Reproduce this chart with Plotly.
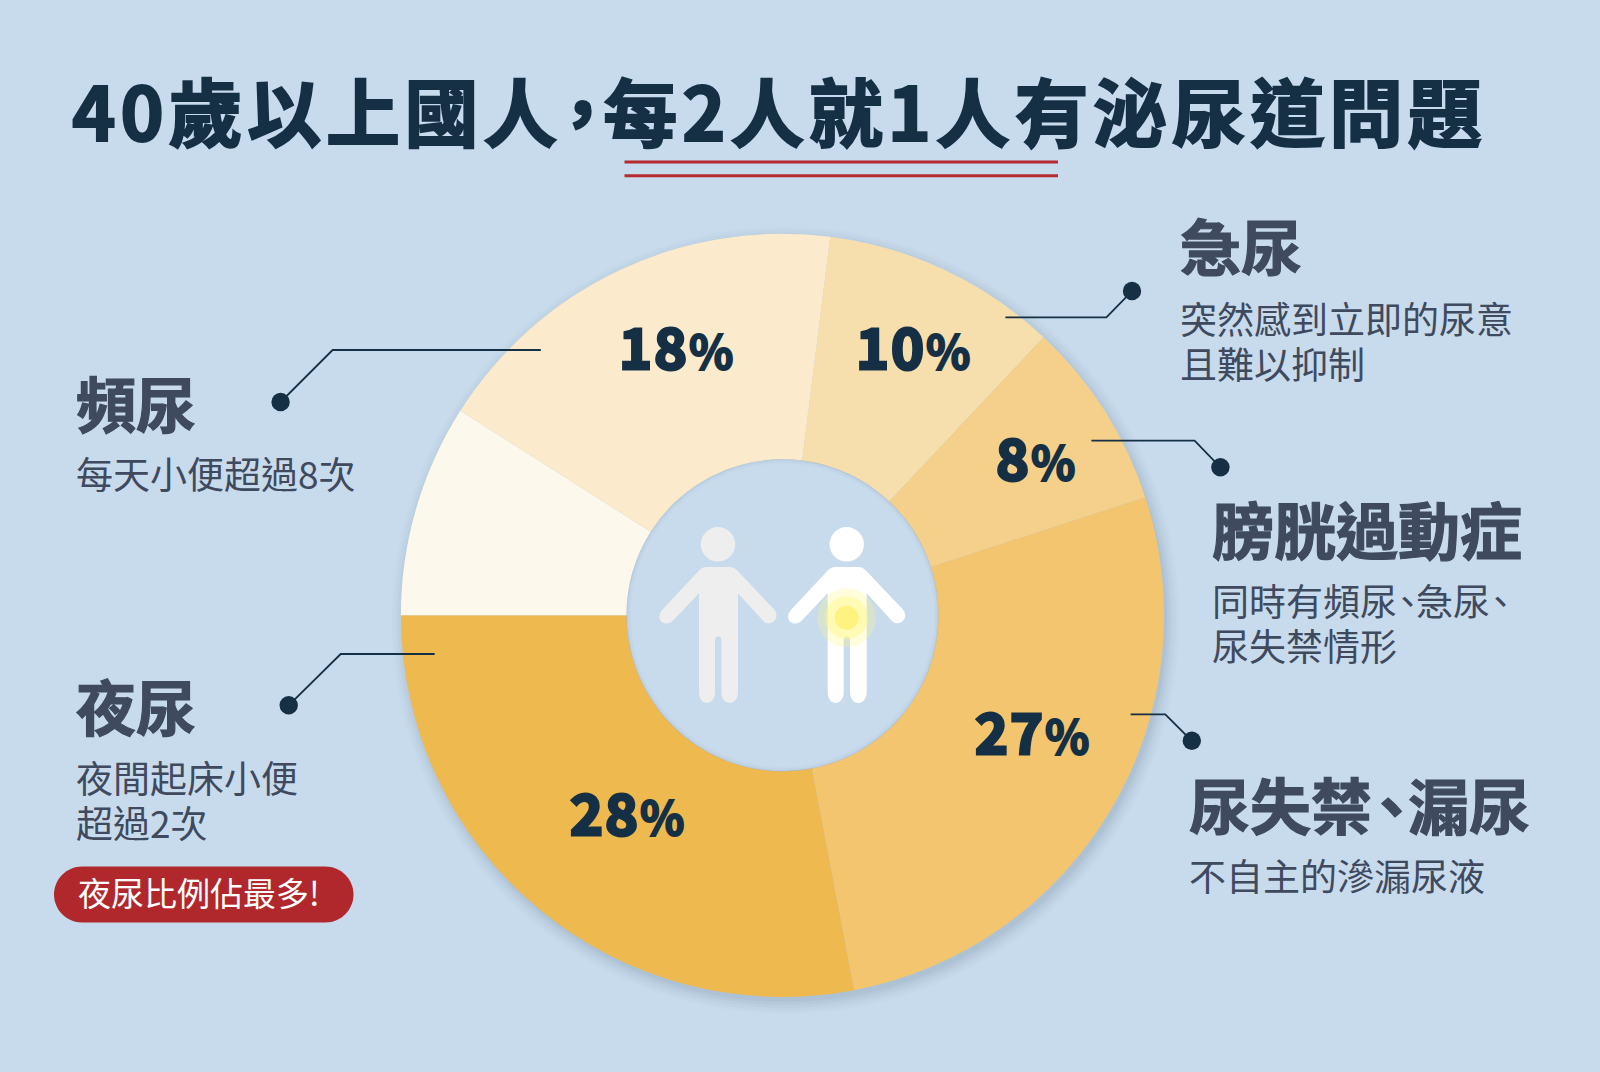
import re
import plotly.graph_objects as go

W, H = 1600, 1072
BG = "#c8dbec"
NAVY = "#152f45"
GREY = "#3f4a5e"
FONT = "Noto Sans CJK TC"

categories = ["急尿", "膀胱過動症", "尿失禁、漏尿", "夜尿", "其他", "頻尿"]
values = [10, 8, 27, 28, 9, 18]
colors = ["#f6dfac", "#f4d08a", "#f2c56e", "#eeb94e", "#fdf8ec", "#fbebcc"]

title_text = "40歲以上國人，每2人就1人有泌尿道問題"
pct_labels = {"急尿": (913, 345), "膀胱過動症": (1035, 455), "尿失禁、漏尿": (1032, 729),
              "夜尿": (627, 810), "頻尿": (676, 345)}

descriptions = [
    ("急尿", 1180, 244, 61, ["突然感到立即的尿意", "且難以抑制"], 340),
    ("膀胱過動症", 1212, 528, 62, ["同時有頻尿、急尿、", "尿失禁情形"], 622),
    ("尿失禁、漏尿", 1189, 803, 61, ["不自主的滲漏尿液"], 875),
    ("頻尿", 76, 401, 60, ["每天小便超過8次"], 473),
    ("夜尿", 76, 704, 60, ["夜間起床小便", "超過2次"], 799),
]
callouts = [
    [(1005.4, 317.3), (1106.4, 317.3), (1132, 291)],
    [(1091.4, 440.7), (1194.6, 440.7), (1220.4, 467.3)],
    [(1130.6, 714.3), (1165.3, 714.3), (1191.8, 740.8)],
    [(540.8, 350), (332.6, 350), (280.6, 402)],
    [(434.7, 654), (340.7, 654), (288.7, 705.3)],
]

CX, CY, R, RH = 782.5, 615.3, 381.6, 156


def px(x):
    return x / W


def py(y):
    return 1 - y / H


def circle(cx, cy, r, fill, line=None, lw=0, layer="above"):
    return dict(type="circle", xref="paper", yref="paper", layer=layer,
                x0=px(cx - r), x1=px(cx + r), y0=py(cy + r), y1=py(cy - r),
                fillcolor=fill, line=dict(color=line or "rgba(0,0,0,0)", width=lw))


def path(cmds, fill=None, line=None, lw=0):
    out = []
    for c in cmds:
        if isinstance(c, str):
            out.append(c)
        else:
            out.append(f"{px(c[0]):.5f},{py(c[1]):.5f}")
    s = " ".join(out)
    d = dict(type="path", xref="paper", yref="paper", path=s,
             line=dict(color=line or "rgba(0,0,0,0)", width=lw))
    if fill:
        d["fillcolor"] = fill
    return d


def person(dx, color):
    z = lambda x, y: (600 + x / 3 + dx, 440 + y / 3)
    cmds = [
        "M", z(320, 381), "L", z(388, 381), "Q", z(402, 381), z(411, 391), "L", z(522, 508),
        "C", z(538, 528), z(526, 550), z(505, 550),
        "Q", z(495, 550), z(488, 541), "L", z(414, 460),
        "L", z(414, 755), "C", z(414, 800), z(364, 800), z(364, 755),
        "L", z(364, 600), "C", z(364, 586), z(345, 586), z(345, 600),
        "L", z(345, 755), "C", z(345, 800), z(297, 800), z(297, 755),
        "L", z(297, 460), "L", z(220, 541),
        "C", z(202, 560), z(178, 548), z(178, 530),
        "Q", z(178, 518), z(187, 509), "L", z(298, 391),
        "Q", z(307, 381), z(320, 381), "Z",
    ]
    return [path(cmds, fill=color), circle(718 + dx, 544.3, 17.2, color)]


shapes = []
# soft drop shadow under the ring
for r, a in [(R + 12, .02), (R + 9, .03), (R + 6, .04), (R + 3, .05), (R, .06)]:
    shapes.append(circle(CX + 3, CY + 5, r, f"rgba(70,90,120,{a})", layer="below"))
shapes.append(circle(CX, CY, RH, BG, layer="below"))
# inner edge of the hole
for r, a in [(RH - 0.5, .12), (RH - 2, .06), (RH - 3.5, .03)]:
    shapes.append(circle(CX, CY, r, "rgba(0,0,0,0)", f"rgba(90,115,150,{a})", 1.5))

shapes += person(0, "#eeeeee")
shapes += person(128.7, "#ffffff")
gx, gy = 600 + 740 / 3, 440 + 533 / 3
shapes.append(circle(gx, gy, 29.3, "rgba(255,247,130,0.28)"))
shapes.append(circle(gx, gy, 21.5, "rgba(255,247,130,0.45)"))
shapes.append(circle(gx, gy, 12, "#fdf37e"))

# double red underline
for y in (162, 175.7):
    shapes.append(dict(type="line", xref="paper", yref="paper", x0=px(624.5), x1=px(1058),
                       y0=py(y), y1=py(y), line=dict(color="#b52b30", width=3)))

# callouts
for pts in callouts:
    shapes.append(path(["M", pts[0], "L", pts[1], "L", pts[2]], line=NAVY, lw=1.8))
    shapes.append(circle(pts[2][0], pts[2][1], 9.2, NAVY))

# red pill
x0, x1, y0, y1 = 54, 353.5, 866.5, 922.5
r = (y1 - y0) / 2
k = r * 0.55
shapes.append(path(["M", (x0 + r, y0), "L", (x1 - r, y0),
                    "C", (x1 - r + k, y0), (x1, y0 + r - k), (x1, y0 + r),
                    "C", (x1, y1 - r + k), (x1 - r + k, y1), (x1 - r, y1),
                    "L", (x0 + r, y1),
                    "C", (x0 + r - k, y1), (x0, y1 - r + k), (x0, y0 + r),
                    "C", (x0, y0 + r - k), (x0 + r - k, y0), (x0 + r, y0), "Z"],
                   fill="#b0282b"))


def note(x, y, text, size, color, weight=400, anchor="left"):
    return dict(x=px(x), y=py(y), xref="paper", yref="paper", text=text, showarrow=False,
                xanchor=anchor, yanchor="middle", align=anchor if anchor != "center" else "center",
                borderpad=0, borderwidth=0,
                font=dict(family=FONT, size=size, color=color, weight=weight))


def span(text, style):
    return f'<span style="{style}">{text}</span>'


def tight_marks(text, before, after):
    """Full-width punctuation sits in a narrower cell in the reference."""
    return re.sub(r"(.)([、，])",
                  lambda m: span(m.group(1), f"letter-spacing:{before}px") + span(m.group(2), f"letter-spacing:{after}px"),
                  text)


def heavy(color, w):
    return f"stroke:{color};stroke-width:{w}px;"


ann = []
t_html = tight_marks(title_text, -12, -16)
ann.append(note(72, 108, span(t_html, "letter-spacing:4.65px;" + heavy(NAVY, 2)), 74, NAVY, 700))
for c, v in zip(categories, values):
    if c in pct_labels:
        x, y = pct_labels[c]
        txt = span(str(v), "letter-spacing:2px;" + heavy(NAVY, 3)) + span("%", "font-size:46px;" + heavy(NAVY, 2))
        ann.append(note(x, y, txt, 56, NAVY, 700, "center"))
for name, x, y, size, lines, ly in descriptions:
    ann.append(note(x, y, span(tight_marks(name, -11, -14), heavy(GREY, 1.2)), size, GREY, 700))
    body = "<br>".join(span(tight_marks(l, -8, -10), "font-size:37px") for l in lines)
    ann.append(note(x, ly, body, 34.6, GREY, 400))
ann.append(note(78, 892, "夜尿比例佔最多!", 33, "#ffffff", 400))

fig = go.Figure(go.Pie(
    labels=categories, values=values, sort=False, direction="clockwise", rotation=7.2,
    hole=RH / R, textinfo="none", hoverinfo="skip", showlegend=False,
    marker=dict(colors=colors, line=dict(width=0)),
    domain=dict(x=[px(CX - R), px(CX + R)], y=[py(CY + R), py(CY - R)]),
))
fig.update_layout(width=W, height=H, margin=dict(l=0, r=0, t=0, b=0), autosize=False,
                  paper_bgcolor=BG, plot_bgcolor=BG, shapes=shapes, annotations=ann,
                  showlegend=False)
fig.write_html("out.html", config={"displayModeBar": False},
               post_script="document.body.style.margin='0';document.body.style.overflow='hidden';")
